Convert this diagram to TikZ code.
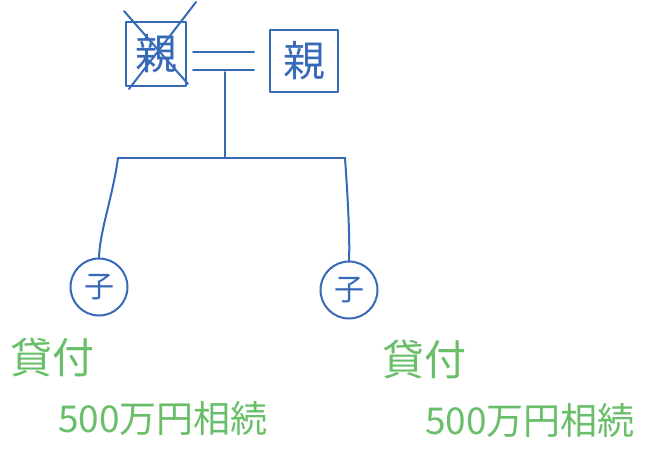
\documentclass[tikz,border=0pt]{standalone}
\usepackage{fontspec}
\newfontfamily\jp{Noto Sans CJK JP}
\definecolor{ink}{RGB}{55,105,185}
\definecolor{pen}{RGB}{105,190,105}
\tikzset{
  blueline/.style={draw=ink, line width=2pt, line cap=round, line join=round},
  parentbox/.style={blueline, rectangle, inner sep=0pt, text=ink, font=\jp\fontsize{42}{46}\selectfont},
  childnode/.style={blueline, circle, inner sep=0pt, minimum size=57pt, text=ink, font=\jp\fontsize{30}{34}\selectfont},
  greentext/.style={text=pen, inner sep=0pt, anchor=west}
}
\begin{document}
\begin{tikzpicture}[x=1pt,y=-1pt]
\useasboundingbox (0,0) rectangle (661,448);
% parents
\node[parentbox, minimum width=60pt, minimum height=64pt] (p1) at (156,54) {親};
\node[parentbox, minimum width=68pt, minimum height=62pt] (p2) at (304,61) {親};
% crossed out
\draw[blueline] ([shift={(-1,-10)}]p1.north west) -- ([shift={(1,-3)}]p1.south east);
\draw[blueline] ([shift={(9,-19)}]p1.north east) -- ([shift={(4,2)}]p1.south west);
% marriage line
\coordinate (m1a) at ([shift={(6,-2)}]p1.east);
\coordinate (m1b) at ([shift={(6,16)}]p1.east);
\coordinate (m2a) at ([shift={(-15,-9)}]p2.west);
\coordinate (m2b) at ([shift={(-15,9)}]p2.west);
\draw[blueline] (m1a) -- (m2a);
\draw[blueline] (m1b) -- (m2b);
\coordinate (mid) at (225,72);
\coordinate (junction) at (225,158);
\coordinate (jl) at (118,158);
\coordinate (jr) at (345,158);
% children
\node[childnode] (c1) at (99,287) {子};
\node[childnode] (c2) at (349,290) {子};
\draw[blueline] (mid) -- (junction);
\draw[blueline] (jl) -- (jr);
\draw[blueline] (jl) .. controls (112,200) and (100,230) .. (c1.north);
\draw[blueline] (jr) .. controls (348,200) and (350,240) .. (c2.north);
% green notes
\node[greentext, font=\jp\fontsize{42}{46}\selectfont] (t1) at (10,358) {貸付};
\node[greentext, font=\jp\fontsize{37}{40}\selectfont] (t2) at (58,418) {500万円相続};
\node[greentext, font=\jp\fontsize{42}{46}\selectfont] (t3) at (382,360) {貸付};
\node[greentext, font=\jp\fontsize{37}{40}\selectfont] (t4) at (425,420) {500万円相続};
\end{tikzpicture}
\end{document}
